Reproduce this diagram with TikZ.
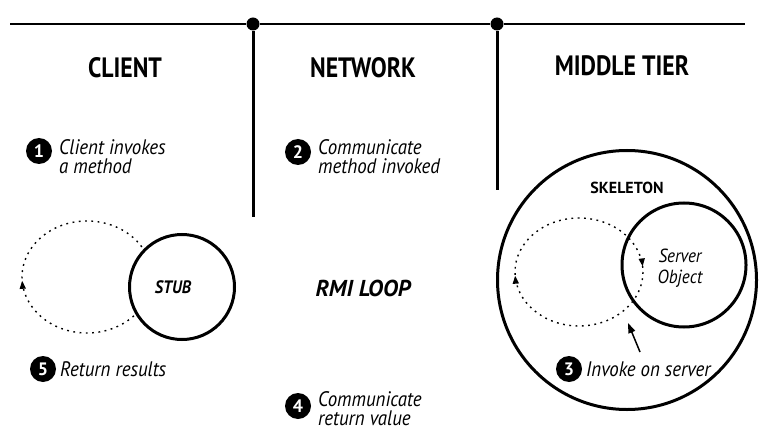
\documentclass[tikz,border=0pt]{standalone}
\usepackage{fontspec}
\setmainfont{PT Sans}
\newfontfamily\headfont{PT Sans}[FakeStretch=0.85]
\newfontfamily\lblfont{PT Sans}[FakeStretch=0.9]
\usetikzlibrary{decorations.markings,arrows.meta}
\begin{document}
\begin{tikzpicture}[x=1pt,y=-1pt,
  num/.style={circle,fill=black,inner sep=0pt,minimum size=26pt,text=white,font=\bfseries\fontsize{18}{18}\selectfont},
  lbl/.style={anchor=west,align=left,font=\lblfont\itshape\fontsize{21}{19}\selectfont,inner sep=0pt},
  head/.style={font=\headfont\bfseries\fontsize{28}{28}\selectfont},
  divider/.style={line width=3pt},
  topline/.style={line width=2pt},
  loopline/.style={line width=1.4pt,dash pattern=on 1.8pt off 4.5pt},
  ring/.style={draw,circle,line width=3pt,inner sep=0pt},
  junction/.style={circle,fill=black,inner sep=0pt,minimum size=13pt},
  upmark/.style={postaction={decorate,decoration={markings,
     mark=at position #1 with {\arrow{Triangle[length=8pt,width=6pt]}}}}}
]
\useasboundingbox[fill=white] (0,0) rectangle (759,430);

% top line and dividers
\coordinate (tl) at (10,24);
\coordinate (tr) at (745,24);
\node[junction] (j1) at (253,24) {};
\node[junction] (j2) at (497,24) {};
\draw[topline] (tl) -- (j1) -- (j2) -- (tr);
\coordinate (b1) at (253,217);
\coordinate (b2) at (497,190);
\draw[divider] (j1) -- (b1);
\draw[divider] (j2) -- (b2);

% headings
\node[head] (hc) at (125,68) {CLIENT};
\node[head] (hn) at (363,68) {NETWORK};
\node[head] (hm) at (622,66) {MIDDLE TIER};

% client loop and stub
\draw[loopline,upmark=0.49] (87,277) ellipse [x radius=65, y radius=56];
\node[ring,fill=white,minimum size=105pt] (stub) at (182,287) {};
\node[font=\lblfont\bfseries\itshape\fontsize{18}{18}\selectfont] (stubt) at (173,287) {STUB};

% RMI loop
\node[font=\bfseries\itshape\fontsize{23}{23}\selectfont] (rmi) at (363,288) {RMI LOOP};

% middle tier
\node[ring,minimum size=259pt] (skel) at (627,280) {};
\node[font=\bfseries\fontsize{16}{16}\selectfont] (skt) at (627,188) {SKELETON};
\draw[loopline,upmark=0.49,upmark=0.985] (579,272) ellipse [x radius=64, y radius=54];
\node[ring,minimum size=124pt] (server) at (684,265) {};
\node[font=\lblfont\itshape\fontsize{19}{21}\selectfont,align=center] (srvt) at (680,268) {Server\\Object};

% steps
\node[num] (n1) at (39,151) {1};
\node[lbl,anchor=north west] (t1) at (59,139) {Client invokes\\a method};
\node[num] (n2) at (298,152) {2};
\node[lbl,anchor=north west] (t2) at (318,139) {Communicate\\method invoked};
\node[num] (n5) at (43,369) {5};
\node[lbl] (t5) at (60,369) {Return results};
\node[num] (n4) at (298,406) {4};
\node[lbl,anchor=north west] (t4) at (318,391) {Communicate\\return value};
\node[num] (n3) at (569,369) {3};
\node[lbl] (t3) at (586,369) {Invoke on server};

% pointer from step 3 to loop
\coordinate (tail) at (640,352);
\coordinate (tip) at (628,323);
\draw[line width=1.5pt,-{Triangle[length=10pt,width=7pt]}] (tail) -- (tip);
\end{tikzpicture}
\end{document}
